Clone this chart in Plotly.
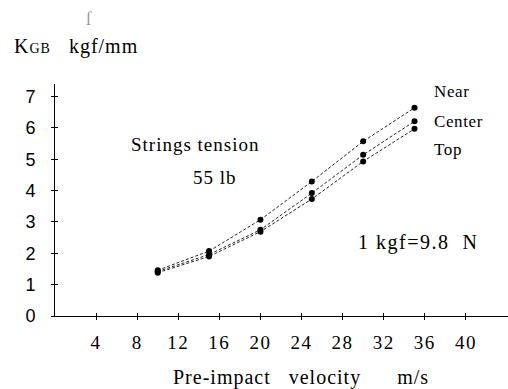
import plotly.graph_objects as go

velocity = [10, 15, 20, 25, 30, 35]
near = [1.46, 2.07, 3.07, 4.29, 5.57, 6.64]
center = [1.42, 1.96, 2.75, 3.92, 5.14, 6.21]
top = [1.38, 1.90, 2.69, 3.73, 4.93, 5.97]
series_names = ["Near", "Center", "Top"]
x_ticks = [4, 8, 12, 16, 20, 24, 28, 32, 36, 40]
y_ticks = [0, 1, 2, 3, 4, 5, 6, 7]

SERIF = "Liberation Serif, Times New Roman, serif"
SANS = "Liberation Sans, Arial, sans-serif"


def spaced(text, ls=1.0):
    return "<span style='letter-spacing:%.1fpx'>%s</span>" % (ls, text)


fig = go.Figure()
for name, vals in zip(series_names, [near, center, top]):
    fig.add_trace(go.Scatter(
        x=velocity, y=vals, mode="lines+markers", name=name,
        line=dict(color="#222", width=1, dash="3px,2px"),
        marker=dict(color="black", size=6),
        showlegend=False,
    ))

XR = [0, 44.1]
YR = [0, 7.4]
NB = "\u00a0"

fig.update_layout(
    width=508, height=389,
    margin=dict(l=55, r=0, t=84, b=73),
    plot_bgcolor="white", paper_bgcolor="white",
    xaxis=dict(range=XR, tickvals=x_ticks,
               ticktext=[spaced(str(v), 1.5) for v in x_ticks],
               ticks="outside", ticklen=3, tickcolor="black", showline=True,
               linecolor="black", linewidth=1, showgrid=False, zeroline=False,
               tickfont=dict(family=SERIF, size=19, color="black"),
               ticklabelstandoff=6),
    yaxis=dict(range=YR, tickvals=y_ticks, ticktext=[str(v) for v in y_ticks],
               ticks="outside", ticklen=3, tickcolor="black", showline=True,
               linecolor="black", linewidth=1, showgrid=False, zeroline=False,
               tickfont=dict(family=SANS, size=18, color="black"),
               ticklabelstandoff=12),
    xaxis2=dict(range=XR, overlaying="x", tickvals=x_ticks, ticks="inside",
                ticklen=3, tickcolor="black", showticklabels=False,
                showgrid=False, zeroline=False, showline=False),
    yaxis2=dict(range=YR, overlaying="y", tickvals=y_ticks, ticks="inside",
                ticklen=3, tickcolor="black", showticklabels=False,
                showgrid=False, zeroline=False, showline=False),
)
fig.add_trace(go.Scatter(x=[None], y=[None], xaxis="x2", yaxis="y2",
                         showlegend=False, hoverinfo="skip"))


def note(text, x, y, anchor="center", size=18, family=SERIF, ref="data", color="black"):
    fig.add_annotation(text=text, x=x, y=y,
                       xref="x" if ref == "data" else "paper",
                       yref="y" if ref == "data" else "paper",
                       xanchor=anchor, yanchor="middle", showarrow=False,
                       font=dict(family=family, size=size, color=color))


note(spaced("Pre-impact" + NB * 3 + "velocity" + NB * 6 + "m/s", 1.0),
     (301 - 55) / 453, (316 - 377) / 232, size=20, ref="paper")
note(spaced("Strings tension", 1.0), 13.6, 5.46, size=19)
note(spaced("55 lb", 1.0), 15.6, 4.41, size=19)
note(spaced("1 kgf=9.8" + NB * 2 + "N", 1.5), 35.3, 2.33, size=20)
note(spaced("Near", 0.6), 36.7, 7.16, anchor="left", size=17)
note(spaced("Center", 0.6), 36.7, 6.2, anchor="left", size=17)
note(spaced("Top", 0.6), 36.7, 5.3, anchor="left", size=17)
note(spaced("K<span style='font-size:14px'>GB</span>" + NB * 3 + "kgf/mm", 1.0),
     -0.094, (316 - 46) / 232, anchor="left", size=20, ref="paper")
note("ſ", (84 - 55) / 453, (316 - 19) / 232, anchor="left", size=18,
     ref="paper", color="#999")

fig.write_html("out.html")
